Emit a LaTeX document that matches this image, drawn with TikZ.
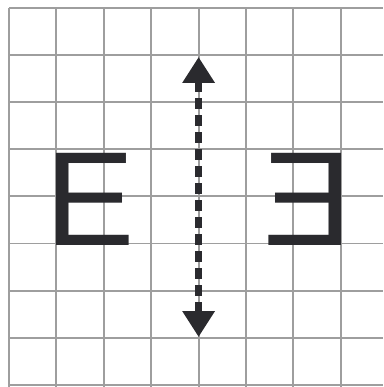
\documentclass[tikz,border=0pt]{standalone}
\usepackage{fontspec}
\setmainfont{Liberation Sans}
\usetikzlibrary{arrows.meta}
\definecolor{gridgray}{RGB}{158,158,158}
\definecolor{ink}{RGB}{42,42,46}
\tikzset{
  gridline/.style={draw=gridgray, line width=1.9pt},
  letter/.style={inner sep=0pt, outer sep=0pt, text=ink, font=\fontsize{134}{134}\selectfont},
  mirrorline/.style={draw=ink, line width=6.5pt, dash pattern=on 11pt off 6pt,
    {Triangle[length=26pt,width=31pt]}-{Triangle[length=26pt,width=31pt]}}
}
\begin{document}
\begin{tikzpicture}[x=1pt,y=-1pt]
\useasboundingbox (0,0) rectangle (383,387);
\fill[white] (0,0) rectangle (383,387);
% grid
\foreach \i in {0,...,7} {
  \draw[gridline] ({9+47.4*\i},8) -- ({9+47.4*\i},387);
}
\foreach \j in {0,...,8} {
  \draw[gridline] (9,{8+47.1*\j}) -- (383,{8+47.1*\j});
}
% letters
\node[letter, anchor=base west] (E) at (45.4,245) {E};
\node[letter, anchor=base east] (Em) at (352.6,245) {\scalebox{-1}[1]{E}};
% mirror arrow
\coordinate (top) at (198.6,57);
\coordinate (bot) at (198.6,337);
\draw[mirrorline] (top) -- (bot);
\end{tikzpicture}
\end{document}
